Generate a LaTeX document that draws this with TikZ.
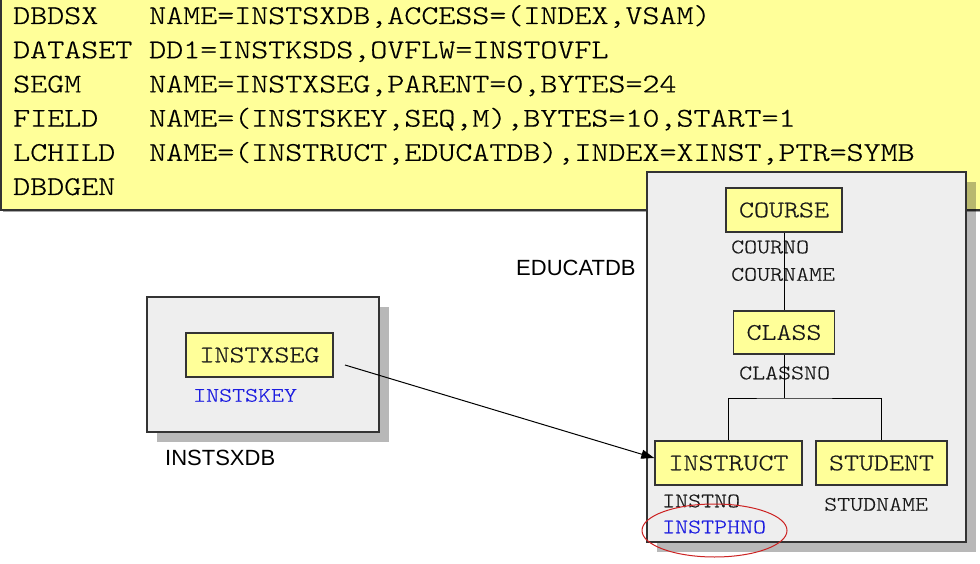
\documentclass[tikz,border=0pt]{standalone}
\usepackage{fontspec}
\setsansfont{Liberation Sans}
% light typewriter face, widened to a Courier-like set width
\newfontfamily\codefont{lmmonolt10-regular.otf}[FakeStretch=1.2,FakeBold=0.6]
\usetikzlibrary{arrows.meta}
\definecolor{segyellow}{HTML}{FFFF99}
\definecolor{dbgrey}{HTML}{EEEEEE}
\definecolor{edge}{HTML}{333333}
\definecolor{fieldblue}{HTML}{1C1CE0}
\definecolor{ringred}{HTML}{CC2222}

\begin{document}
\begin{tikzpicture}[x=1pt,y=-1pt,
  frame/.style={draw=edge,line width=1.4pt},
  seg/.style={frame,fill=segyellow,inner sep=0pt,text=black!90,
    font=\fontsize{23.8}{28}\selectfont\codefont},
  field/.style={anchor=base west,inner sep=0pt,text=black!90,
    font=\fontsize{20.6}{25}\selectfont\codefont},
  keyfield/.style={field,text=fieldblue},
  code/.style={anchor=base west,inner sep=0pt,text=black,
    font=\fontsize{27}{34}\selectfont\codefont},
  dbname/.style={anchor=base west,inner sep=0pt,
    font=\fontsize{22}{26}\selectfont\sffamily},
  shadow/.style={fill=black,opacity=0.28},
  link/.style={draw=black,line width=1pt}]

% page
\fill[white] (0,0) rectangle (980,564);
\useasboundingbox (0,0) rectangle (980,564);

% DBD source panel
\fill[black!35] (3,-10) rectangle (990,212.5);
\draw[frame,fill=segyellow] (1,-10) rectangle (990,210);

\node[code] (kw1) at (13,24)    {DBDSX};
\node[code] (kw2) at (13,58.2)  {DATASET};
\node[code] (kw3) at (13,92.4)  {SEGM};
\node[code] (kw4) at (13,126.6) {FIELD};
\node[code] (kw5) at (13,160.8) {LCHILD};
\node[code] (kw6) at (13,195)   {DBDGEN};
\node[code] (arg1) at (149,24)    {NAME=INSTSXDB,ACCESS=(INDEX,VSAM)};
\node[code] (arg2) at (149,58.2)  {DD1=INSTKSDS,OVFLW=INSTOVFL};
\node[code] (arg3) at (149,92.4)  {NAME=INSTXSEG,PARENT=0,BYTES=24};
\node[code] (arg4) at (149,126.6) {NAME=(INSTSKEY,SEQ,M),BYTES=10,START=1};
\node[code] (arg5) at (149,160.8) {NAME=(INSTRUCT,EDUCATDB),INDEX=XINST,PTR=SYMB};

% EDUCATDB database
\fill[shadow] (657,182) rectangle (976,552);
\draw[frame,fill=dbgrey] (647,172) rectangle (966,542);

% INSTSXDB index database
\fill[shadow] (157,307) rectangle (389,442);
\draw[frame,fill=dbgrey] (147,297) rectangle (379,432);

% segments
\node[seg,minimum width=116pt,minimum height=44pt] (course)   at (784,210)   {COURSE};
\node[seg,minimum width=101pt,minimum height=43pt] (class)    at (784,332.5) {CLASS};
\node[seg,minimum width=147pt,minimum height=44pt] (instruct) at (728.5,463) {INSTRUCT};
\node[seg,minimum width=131pt,minimum height=44pt] (student)  at (881.5,463) {STUDENT};
\node[seg,minimum width=147pt,minimum height=44pt] (instxseg) at (259.5,355) {INSTXSEG};

% fields
\node[field] (courno)   at (731,253.3) {COURNO};
\node[field] (courname) at (731,280.7) {COURNAME};
\node[field] (classno)  at (739,379.3) {CLASSNO};
\node[field] (instno)   at (662,507.3) {INSTNO};
\node[keyfield] (instphno) at (662,533.3) {INSTPHNO};
\node[field] (studname) at (824,510.7) {STUDNAME};
\node[keyfield] (instskey) at (193,401.7) {INSTSKEY};

% database names
\node[dbname] (sxdb) at (165,465)   {INSTSXDB};
\node[dbname] (educ) at (516,275.7) {EDUCATDB};

% hierarchy
\coordinate (split) at (784,398);
\draw[link] (course) -- (class);
\draw[link] (class.south) -- (split);
\draw[link] (instruct.north) |- (split) -| (student.north);

% logical child pointer
\coordinate (src) at (345,365);
\draw[link,-{Triangle[length=13pt,width=9pt]}] (src) -- ([yshift=5pt]instruct.west);

% highlighted field
\draw[ringred,line width=1pt] (714.5,530.5) ellipse [x radius=72.5pt,y radius=26.5pt];
\end{tikzpicture}
\end{document}
